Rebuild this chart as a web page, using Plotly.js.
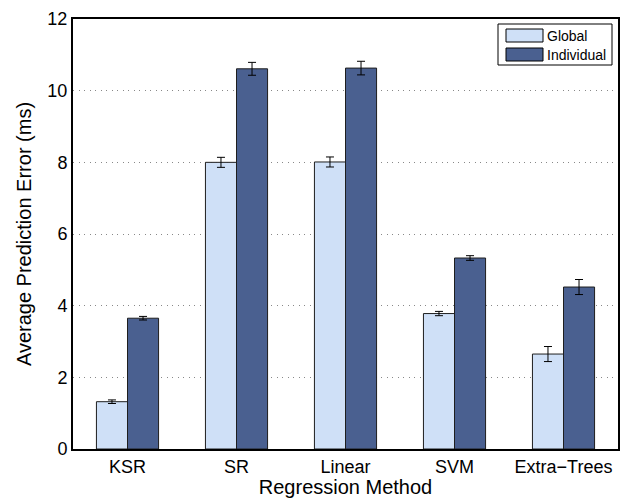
<!DOCTYPE html>
<html>
<head>
<meta charset="utf-8">
<script src="https://cdn.plot.ly/plotly-3.0.1.min.js"></script>
<style>
  html, body { margin: 0; padding: 0; background: #fff; }
  #chart { width: 630px; height: 498px; }
</style>
</head>
<body>
<div id="chart"></div>
<script>
// Regression methods on the x axis
const methods = ["KSR", "SR", "Linear", "SVM", "Extra\u2212Trees"];

// Average prediction error (ms) per method, with standard deviations
const globalErr = [1.32, 8.0, 8.01, 3.78, 2.65];
const globalStd = [0.05, 0.14, 0.14, 0.06, 0.21];
const individualErr = [3.65, 10.61, 10.63, 5.33, 4.52];
const individualStd = [0.05, 0.18, 0.19, 0.065, 0.21];

const seriesNames = ["Global", "Individual"];
const seriesColors = ["#cfe0f7", "#4a6090"];

const yTicks = [0, 2, 4, 6, 8, 10, 12];

const barLine = { color: "rgb(30,30,30)", width: 1 };
const errStyle = { type: "data", visible: true, color: "#000", thickness: 1, width: 4 };

const traces = [
  {
    type: "bar",
    name: seriesNames[0],
    x: methods,
    y: globalErr,
    error_y: Object.assign({ array: globalStd }, errStyle),
    marker: { color: seriesColors[0], line: barLine }
  },
  {
    type: "bar",
    name: seriesNames[1],
    x: methods,
    y: individualErr,
    error_y: Object.assign({ array: individualStd }, errStyle),
    marker: { color: seriesColors[1], line: barLine }
  }
];

// Figure size and margins
const W = 630, H = 498;
const M = { l: 73, r: 12, t: 19, b: 49 };

// Boxed legend with wide swatches, placed in pixels and converted to plot-area fractions
const px = v => (v - M.l) / (W - M.l - M.r);
const py = v => 1 - (v - M.t) / (H - M.t - M.b);
const shapes = [
  { type: "rect", xref: "paper", yref: "paper", x0: px(498), x1: px(612), y0: py(65), y1: py(24),
    line: { color: "#000", width: 1 }, fillcolor: "#fff", layer: "above" }
];
const annotations = [];
seriesNames.forEach((name, i) => {
  const top = 29 + i * 19;
  shapes.push({ type: "rect", xref: "paper", yref: "paper",
    x0: px(506), x1: px(543), y0: py(top + 13), y1: py(top),
    line: { color: "#000", width: 1 }, fillcolor: seriesColors[i], layer: "above" });
  annotations.push({ xref: "paper", yref: "paper", x: px(545), y: py(top + 6.5),
    xanchor: "left", yanchor: "middle", showarrow: false, text: name,
    font: { size: 14, color: "#000" } });
});

const layout = {
  width: W,
  height: H,
  margin: M,
  paper_bgcolor: "#fff",
  plot_bgcolor: "#fff",
  font: { family: "Liberation Sans, Arial, sans-serif", size: 18, color: "#000" },
  barmode: "group",
  bargap: 0.43,
  bargroupgap: 0,
  showlegend: false,
  shapes: shapes,
  annotations: annotations,
  xaxis: {
    range: [-0.5, 4.5],
    automargin: false,
    showline: true, linecolor: "#000", linewidth: 2, mirror: true,
    ticks: "", showgrid: false,
    tickfont: { size: 18 },
    title: { text: "Regression Method", font: { size: 20 }, standoff: 1 }
  },
  yaxis: {
    range: [0, 12],
    automargin: false,
    tickvals: yTicks,
    ticktext: yTicks.map(String),
    showline: true, linecolor: "#000", linewidth: 2, mirror: true,
    ticks: "",
    showgrid: true, gridcolor: "#888", griddash: "1px,4.5px", gridwidth: 1,
    zeroline: false,
    tickfont: { size: 18 },
    title: { text: "Average Prediction Error (ms)", font: { size: 20 }, standoff: 10 }
  }
};

Plotly.newPlot("chart", traces, layout, { displayModeBar: false, staticPlot: true });
</script>
</body>
</html>
